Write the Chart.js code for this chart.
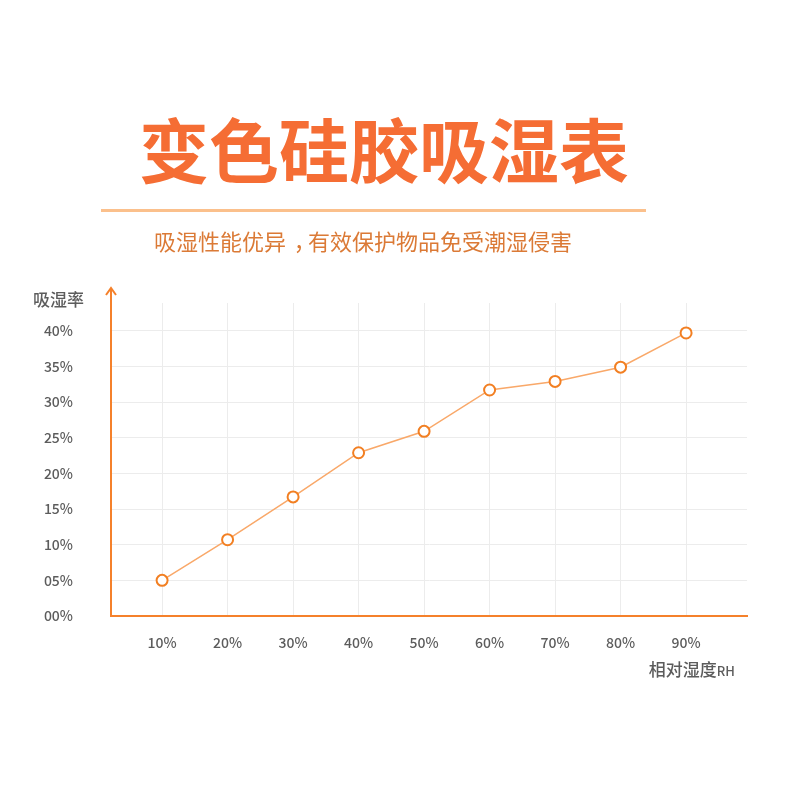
<!DOCTYPE html>
<html>
<head>
<meta charset="utf-8">
<script src="https://cdn.jsdelivr.net/npm/chart.js@4/dist/chart.umd.min.js"></script>
<style>
  body { margin: 0; background: #fff; }
  #wrap { position: relative; width: 800px; height: 800px; font-family: "Noto Sans CJK SC", sans-serif; }
  #chart { position: absolute; left: 0; top: 0; }
  .title { position: absolute; left: 0; width: 768px; top: 113px; text-align: center; font-size: 70px; line-height: 70px; font-weight: 700; color: #f56d34; }
  .rule { position: absolute; left: 101px; top: 209px; width: 545px; height: 3px; background: #fbc08c; }
  .subtitle { position: absolute; left: 154px; top: 229px; font-size: 22px; line-height: 22px; color: #db7a36; }
  .subtitle span { display: inline-block; transform: translateX(0.35em); }
</style>
</head>
<body>
<div id="wrap">
  <canvas id="chart" width="800" height="800"></canvas>
  <div class="title">变色硅胶吸湿表</div>
  <div class="rule"></div>
  <div class="subtitle">吸湿性能优异<span>，</span>有效保护物品免受潮湿侵害</div>
</div>
<script>
// relative humidity (%) and absorption rate (%)
const humidity = [10, 20, 30, 40, 50, 60, 70, 80, 90];
const absorption = [5.0, 10.7, 16.7, 22.9, 25.9, 31.7, 32.9, 34.9, 39.7];
const yTicks = [0, 5, 10, 15, 20, 25, 30, 35, 40];
const xTicks = humidity;

const axisColor = '#f5812b';
const labelColor = '#5c5c5c';

// arrow on top of the y axis and the two axis names
const axisExtras = {
    id: 'axisExtras',
    afterDraw(chart) {
        const { ctx, chartArea } = chart;
        const x = chartArea.left;
        ctx.save();
        ctx.strokeStyle = axisColor;
        ctx.lineWidth = 2;
        ctx.beginPath();
        ctx.moveTo(x, chartArea.top);
        ctx.lineTo(x, 288);
        ctx.stroke();
        ctx.beginPath();
        ctx.moveTo(x - 5, 295);
        ctx.lineTo(x, 288);
        ctx.lineTo(x + 5, 295);
        ctx.stroke();

        ctx.fillStyle = labelColor;
        ctx.textBaseline = 'middle';
        ctx.textAlign = 'left';
        ctx.font = '500 17px "Noto Sans CJK SC"';
        ctx.fillText('吸湿率', 33, 300);

        ctx.textAlign = 'right';
        ctx.font = '500 13px "Noto Sans CJK SC"';
        const rhW = ctx.measureText('RH').width;
        ctx.fillText('RH', 735, 671);
        ctx.font = '500 17px "Noto Sans CJK SC"';
        ctx.fillText('相对湿度', 735 - rhW, 670);
        ctx.restore();
    }
};

new Chart(document.getElementById('chart'), {
    type: 'line',
    data: {
        datasets: [{
            data: humidity.map((h, i) => ({ x: h, y: absorption[i] })),
            borderColor: '#f9a869',
            borderWidth: 1.5,
            pointRadius: 5.5,
            pointBorderWidth: 2,
            pointBorderColor: '#f27f22',
            pointBackgroundColor: '#fff',
            tension: 0
        }]
    },
    options: {
        responsive: false,
        animation: false,
        layout: { padding: { top: 303, right: 53, left: 0, bottom: 0 } },
        scales: {
            x: {
                type: 'linear',
                min: 2.2,
                max: 99.3,
                afterBuildTicks: s => { s.ticks = xTicks.map(v => ({ value: v })); },
                afterFit: s => { s.height = 184; },
                grid: { color: '#ececec', drawTicks: false },
                border: { color: axisColor, width: 2 },
                ticks: {
                    padding: 18,
                    color: labelColor,
                    font: { family: '"Noto Sans CJK SC"', size: 14, weight: '500' },
                    callback: v => v + '%'
                }
            },
            y: {
                min: 0,
                max: 43.9,
                afterBuildTicks: s => { s.ticks = yTicks.map(v => ({ value: v })); },
                afterFit: s => { s.width = 111; },
                grid: { color: '#ececec', drawTicks: false },
                border: { color: axisColor, width: 2 },
                ticks: {
                    padding: 38,
                    color: labelColor,
                    font: { family: '"Noto Sans CJK SC"', size: 14, weight: '500' },
                    callback: v => String(v).padStart(2, '0') + '%'
                }
            }
        },
        plugins: {
            legend: { display: false },
            tooltip: { enabled: false }
        }
    },
    plugins: [axisExtras]
});
</script>
</body>
</html>
